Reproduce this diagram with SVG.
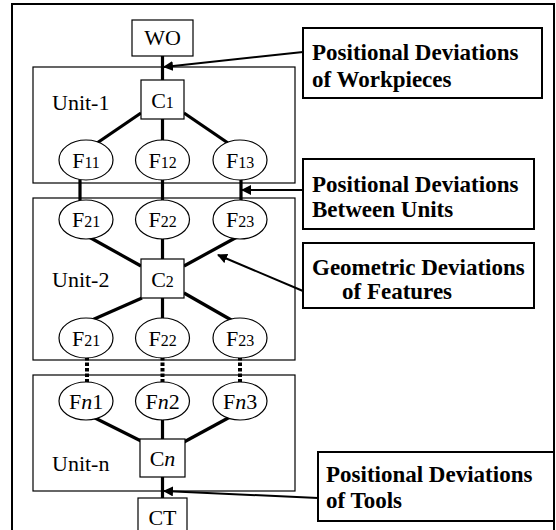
<svg xmlns="http://www.w3.org/2000/svg" width="556" height="530" viewBox="0 0 556 530">
<defs>
<style>
.frame{fill:#fff;stroke:#000;stroke-width:2}
.unit{fill:none;stroke:#000;stroke-width:1.2}
.box{fill:#fff;stroke:#000;stroke-width:1.2}
.lbl{fill:#fff;stroke:#000;stroke-width:2}
.ell{fill:#fff;stroke:#000;stroke-width:1.2}
.t{font-family:"Liberation Serif","Times New Roman",serif;font-size:22px;fill:#000}
.tm{text-anchor:middle}
.sub{font-size:16px}
.it{font-style:italic}
.b{font-family:"Liberation Serif","Times New Roman",serif;font-size:23px;font-weight:bold;fill:#000}
.c{stroke:#000;stroke-width:3.2;fill:none}
.d{stroke:#000;stroke-width:4;fill:none;stroke-dasharray:3.5 2}
.a{stroke:#000;stroke-width:2;fill:none;marker-end:url(#ah)}
</style>
<marker id="ah" viewBox="0 0 10 10" refX="9" refY="5" markerWidth="5" markerHeight="5" orient="auto" markerUnits="strokeWidth">
<path d="M0,0 L10,5 L0,10 z" fill="#000"/>
</marker>
</defs>
<rect class="frame" x="12" y="4" width="542" height="532"/>
<g id="unit-boxes">
<rect id="unit1" class="unit" x="33" y="67" width="262" height="116"/>
<rect id="unit2" class="unit" x="33" y="198" width="262" height="162"/>
<rect id="unitn" class="unit" x="33" y="375" width="262" height="116"/>
<text class="t" x="52" y="110">Unit-1</text>
<text class="t" x="52" y="287">Unit-2</text>
<text class="t" x="52" y="471">Unit-n</text>
</g>
<g id="connectors">
<line class="c" x1="162.5" y1="55" x2="162.5" y2="80"/>
<line class="c" x1="141" y1="113" x2="97" y2="143"/>
<line class="c" x1="162.5" y1="119" x2="162.5" y2="141"/>
<line class="c" x1="184" y1="113" x2="228" y2="143"/>
<line class="c" x1="80" y1="178" x2="80" y2="202"/>
<line class="c" x1="162.5" y1="178" x2="162.5" y2="202"/>
<line class="c" x1="241" y1="178" x2="241" y2="202"/>
<line class="c" x1="89" y1="237" x2="141" y2="266"/>
<line class="c" x1="162.5" y1="237" x2="162.5" y2="259"/>
<line class="c" x1="237" y1="237" x2="184" y2="266"/>
<line class="c" x1="142" y1="298" x2="92" y2="320"/>
<line class="c" x1="162.5" y1="298" x2="162.5" y2="320"/>
<line class="c" x1="184" y1="293" x2="233" y2="321"/>
<line class="d" x1="87" y1="357" x2="87" y2="383"/>
<line class="d" x1="162.5" y1="357" x2="162.5" y2="383"/>
<line class="d" x1="240" y1="357" x2="240" y2="383"/>
<line class="c" x1="93" y1="417" x2="141" y2="441"/>
<line class="c" x1="162.5" y1="418" x2="162.5" y2="439"/>
<line class="c" x1="230" y1="417" x2="184" y2="442"/>
<line class="c" x1="162.5" y1="477" x2="162.5" y2="498"/>
<line class="a" x1="303" y1="52" x2="164" y2="67"/>
<line class="a" x1="303" y1="190" x2="242" y2="190"/>
<line class="a" x1="303" y1="291" x2="218" y2="255"/>
<line class="a" x1="318" y1="498" x2="164" y2="491"/>
</g>
<g id="WO"><rect class="box" x="132" y="20" width="61" height="36"/><text class="t tm" x="162.5" y="45">WO</text></g>
<g id="C1"><rect class="box" x="141" y="80" width="43" height="39"/><text class="t tm" x="162.5" y="108">C<tspan class="sub">1</tspan></text></g>
<g id="F11"><ellipse class="ell" cx="86" cy="160" rx="27" ry="20"/><text class="t tm" x="86" y="168">F<tspan class="sub">11</tspan></text></g>
<g id="F12"><ellipse class="ell" cx="162.5" cy="160" rx="27" ry="20"/><text class="t tm" x="162.5" y="168">F<tspan class="sub">12</tspan></text></g>
<g id="F13"><ellipse class="ell" cx="240" cy="160" rx="27" ry="20"/><text class="t tm" x="240" y="168">F<tspan class="sub">13</tspan></text></g>
<g id="F21a"><ellipse class="ell" cx="86" cy="219.5" rx="27" ry="19.5"/><text class="t tm" x="86" y="227">F<tspan class="sub">21</tspan></text></g>
<g id="F22a"><ellipse class="ell" cx="162.5" cy="219.5" rx="27" ry="19.5"/><text class="t tm" x="162.5" y="227">F<tspan class="sub">22</tspan></text></g>
<g id="F23a"><ellipse class="ell" cx="240" cy="219.5" rx="27" ry="19.5"/><text class="t tm" x="240" y="227">F<tspan class="sub">23</tspan></text></g>
<g id="C2"><rect class="box" x="141" y="259" width="43" height="39"/><text class="t tm" x="162.5" y="287">C<tspan class="sub">2</tspan></text></g>
<g id="F21b"><ellipse class="ell" cx="86" cy="338" rx="27" ry="20"/><text class="t tm" x="86" y="346">F<tspan class="sub">21</tspan></text></g>
<g id="F22b"><ellipse class="ell" cx="162.5" cy="338" rx="27" ry="20"/><text class="t tm" x="162.5" y="346">F<tspan class="sub">22</tspan></text></g>
<g id="F23b"><ellipse class="ell" cx="240" cy="338" rx="27" ry="20"/><text class="t tm" x="240" y="346">F<tspan class="sub">23</tspan></text></g>
<g id="Fn1"><ellipse class="ell" cx="86" cy="401" rx="27" ry="19"/><text class="t tm" x="86" y="409">F<tspan class="it">n</tspan>1</text></g>
<g id="Fn2"><ellipse class="ell" cx="162.5" cy="401" rx="27" ry="19"/><text class="t tm" x="162.5" y="409">F<tspan class="it">n</tspan>2</text></g>
<g id="Fn3"><ellipse class="ell" cx="240" cy="401" rx="27" ry="19"/><text class="t tm" x="240" y="409">F<tspan class="it">n</tspan>3</text></g>
<g id="Cn"><rect class="box" x="140" y="439" width="45" height="38"/><text class="t tm" x="162.5" y="466">C<tspan class="it">n</tspan></text></g>
<g id="CT"><rect class="box" x="138" y="498" width="49" height="40"/><text class="t tm" x="162.5" y="525">CT</text></g>
<g id="label1"><rect class="lbl" x="303" y="28" width="239" height="70"/><text class="b" x="312" y="60">Positional Deviations</text><text class="b" x="312" y="87">of Workpieces</text></g>
<g id="label2"><rect class="lbl" x="303" y="159" width="231" height="70"/><text class="b" x="312" y="192">Positional Deviations</text><text class="b" x="312" y="217">Between Units</text></g>
<g id="label3"><rect class="lbl" x="303" y="243" width="231" height="65"/><text class="b" x="312" y="275">Geometric Deviations</text><text class="b" x="342" y="299">of Features</text></g>
<g id="label4"><rect class="lbl" x="318" y="452" width="236" height="69"/><text class="b" x="326" y="482">Positional Deviations</text><text class="b" x="326" y="508">of Tools</text></g>
</svg>
